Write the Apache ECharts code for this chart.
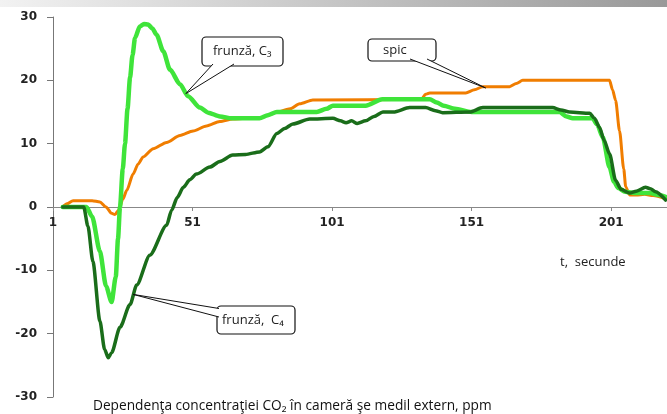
<!DOCTYPE html>
<html>
<head>
<meta charset="utf-8">
<script src="https://cdn.jsdelivr.net/npm/echarts@6/dist/echarts.min.js"></script>
<style>
html,body{margin:0;padding:0;background:#fff;}
#chart{width:667px;height:414px;}
</style>
</head>
<body>
<div id="chart"></div>
<script>
// ---- data (t in seconds, CO2 difference in ppm) ----
const xTicks = [1, 51, 101, 151, 201];
const yTicks = [-30, -20, -10, 0, 10, 20, 30];

const spic = [[4.5,0],[6,0.5],[8.2,1],[12,1],[15,1],[17.8,0.8],[20,0],[22,-1],[23.2,-1.2],[24.5,-0.5],[26,1.2],[27.4,2.6],[29.7,5.2],[31.5,6.8],[33.3,7.9],[36.9,9.2],[41.7,10.2],[46.5,11.3],[51.2,12],[56,12.8],[60.8,13.5],[65.4,13.9],[70,14],[75.1,14],[78,14.5],[81.2,15],[86,15.5],[89.4,16.3],[94.1,16.9],[133,17],[134.5,17.8],[136,18],[148.9,18],[152,18.5],[155,19],[164.6,19],[167,19.5],[169.3,20],[200.4,20],[201.5,18.5],[202.6,16.8],[204,12],[205.5,6],[206.2,3.2],[207.6,1.9],[210,1.9],[213,2],[216,1.8],[220.5,1.3]];

const frunzaC3 = [[4.5,0],[13,0],[15,-1.5],[17.8,-7],[20,-12.5],[22,-15],[23.5,-11],[24.3,-5],[25,0],[26,6],[26.8,10],[27.7,15.5],[28.6,20.4],[29.5,24],[30.4,26.7],[32.1,28.5],[33.6,28.9],[35.1,28.8],[36.6,28.2],[38.1,27.2],[40.5,24.6],[42.9,21.7],[46.5,19.4],[49.4,17.5],[53.6,15.7],[56.6,14.9],[60.8,14.3],[65,14],[75,14],[78,14.5],[81.2,15],[95.5,15],[99,15.5],[101.3,16],[113,16],[119,17],[136,17],[138.5,16.5],[141,16],[145,15.5],[151,15],[182.5,15],[185,14.3],[187.2,14],[194.3,14],[196,13],[198,11],[200.4,6.3],[202,4],[203.5,3],[206,2.4],[210,2.2],[215,2.2],[218,1.9],[221,1.5]];

const frunzaC4 = [[4.5,0],[12,0],[13.5,-3],[15.3,-8.6],[17.8,-18],[19.5,-22.5],[20.8,-23.8],[22,-23],[25,-19],[28.6,-15.4],[31,-12.3],[35.7,-7.6],[41.7,-2.9],[43.5,-0.5],[45.5,1.5],[47.7,3.1],[50,4.3],[52.4,5.2],[57.2,6.3],[60.8,7.2],[65.4,8.2],[70,8.3],[75,8.7],[78,9.5],[81.2,11.6],[84,12.4],[86.9,13.1],[93,13.9],[101.3,14],[104,13.6],[106,13.3],[108,13.6],[110,13.2],[113,13.6],[116,14.3],[119.2,15],[123,15],[128.8,15.7],[134.5,15.7],[138,15.2],[140.6,14.9],[150.3,15],[155,15.7],[180,15.7],[183,15.3],[186.1,15],[193.3,14.8],[195,14],[196.8,12.6],[198.5,10.5],[200.4,8.4],[202.6,4.2],[204.5,2.8],[207.6,2.2],[210,2.5],[213.3,3.1],[215,2.9],[216.9,2.4],[220.5,1.1]];

// callout anchor points on the curves (data coordinates)
const tipC3 = [48.6, 17.9];
const tipSpic = [156, 18.8];
const tipC4 = [29.7, -13.8];

const labelC3 = 'frunză, C₃';
const labelSpic = 'spic';
const labelC4 = 'frunză,  C₄';
const xName = 't,  secunde';
const caption = 'Dependenţa concentraţiei CO₂ în cameră şe medil extern, ppm';

// ---- chart ----
const chart = echarts.init(document.getElementById('chart'), null, {renderer: 'canvas'});
const textFont = '"Open Sans", "Noto Sans", "DejaVu Sans", sans-serif';
const axisFont = {fontFamily: '"DejaVu Sans", sans-serif', fontWeight: 'bold', fontSize: 12, color: '#222'};

function lineSeries(name, data, color, width) {
  return {
    name, type: 'line', data, showSymbol: false, symbol: 'none',
    smooth: 0.25, smoothMonotone: 'x',
    lineStyle: {color, width, cap: 'round', join: 'round'},
    emphasis: {disabled: true}, animation: false
  };
}

const baseOption = {
  backgroundColor: '#ffffff',
  animation: false,
  grid: {left: 53, right: 0, top: 17, bottom: 17, containLabel: false, outerBoundsMode: 'none'},
  xAxis: {
    type: 'value', min: 1, max: 221, position: 'bottom', offset: 0,
    axisLine: {onZero: false, lineStyle: {color: '#888', width: 1}},
    axisTick: {show: true, customValues: xTicks, length: 4, lineStyle: {color: '#888'}},
    axisLabel: Object.assign({customValues: xTicks, margin: 10}, axisFont),
    splitLine: {show: false}
  },
  yAxis: {
    type: 'value', min: -30, max: 30, interval: 10,
    axisLine: {show: true, lineStyle: {color: '#777', width: 1}},
    axisTick: {show: true, length: 6, lineStyle: {color: '#777'}},
    axisLabel: Object.assign({margin: 16}, axisFont),
    splitLine: {show: false}
  },
  series: [
    lineSeries('spic', spic, '#f07d00', 3),
    lineSeries('frunză, C3', frunzaC3, '#3fe43a', 4.5),
    lineSeries('frunză, C4', frunzaC4, '#1a6d1a', 3.5)
  ]
};
chart.setOption(baseOption);

function P(pt) { return chart.convertToPixel({xAxisIndex: 0, yAxisIndex: 0}, pt); }

// move the x axis up so it crosses at y = 0
const zeroY = P([1, 0])[1];
const bottomY = P([1, -30])[1];
chart.setOption({xAxis: {offset: zeroY - bottomY}});

function callout(box, base1, base2, tip, text, textX) {
  const els = [];
  els.push({type: 'rect', shape: {x: box[0], y: box[1], width: box[2], height: box[3], r: 4},
    style: {fill: '#fff', stroke: '#111', lineWidth: 1.2}, z: 100});
  els.push({type: 'polygon', shape: {points: [base1, base2, tip]},
    style: {fill: '#fff', stroke: null}, z: 101});
  els.push({type: 'polyline', shape: {points: [base1, tip, base2]},
    style: {stroke: '#111', lineWidth: 1, fill: null}, z: 102});
  els.push({type: 'text', x: textX, y: box[1] + box[3] / 2,
    style: {text, fill: '#222', font: '13px ' + textFont, verticalAlign: 'middle', align: 'left'}, z: 103});
  return els;
}

const t3 = P(tipC3), ts = P(tipSpic), t4 = P(tipC4);
const graphics = [
  {type: 'rect', shape: {x: 0, y: 0, width: 667, height: 7},
    style: {fill: new echarts.graphic.LinearGradient(0, 0, 1, 0, [
      {offset: 0, color: '#f2f2f2'}, {offset: 1, color: '#999999'}])}, z: 50},
  ...callout([202, 37, 81, 29], [213, 64], [234, 64], t3, labelC3, 213),
  ...callout([368, 39, 68, 22], [410, 59], [427, 59], ts, labelSpic, 383),
  ...callout([217, 306, 78, 28], [219, 308.5], [219, 317], t4, labelC4, 222),
  {type: 'text', x: 560, y: 262,
    style: {text: xName, fill: '#222', font: '13px ' + textFont, verticalAlign: 'middle'}, z: 60},
  {type: 'text', x: 93, y: 406,
    style: {text: caption, fill: '#111', font: '13.7px ' + textFont, verticalAlign: 'middle'}, z: 60}
];
chart.setOption({graphic: graphics});
</script>
</body>
</html>
